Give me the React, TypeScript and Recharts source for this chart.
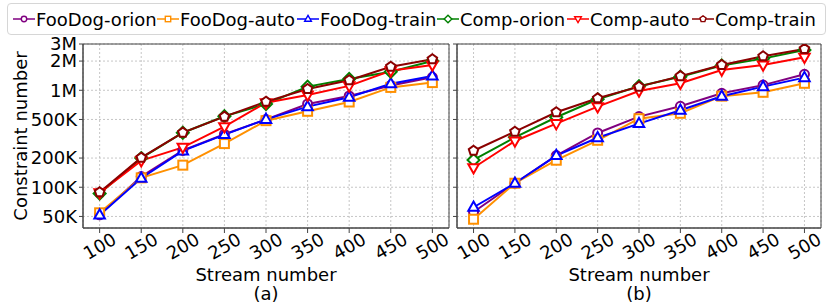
import React from 'react';
import { LineChart, Line, XAxis, YAxis, CartesianGrid, ReferenceArea, Label } from 'recharts';

const streams = [100, 150, 200, 250, 300, 350, 400, 450, 500];
const yTicks = [50000, 100000, 200000, 500000, 1000000, 2000000, 3000000];

const seriesNames = ['FooDog-orion', 'FooDog-auto', 'FooDog-train', 'Comp-orion', 'Comp-auto', 'Comp-train'];
const seriesColors = ['#800080', '#ff9000', '#0000ff', '#008000', '#ff0000', '#8b0000'];
const seriesShapes = ['circle', 'square', 'triUp', 'diamond', 'triDown', 'pentagon'];

// panel (a)
const fooOrionA = [52000, 129000, 240000, 352000, 500000, 722000, 873000, 1120000, 1360000];
const fooAutoA = [54500, 125000, 169000, 282000, 486000, 607000, 757000, 1070000, 1200000];
const fooTrainA = [51800, 124000, 237000, 349000, 501000, 678000, 847000, 1170000, 1400000];
const compOrionA = [86000, 200000, 365000, 540000, 722000, 1090000, 1310000, 1550000, 2000000];
const compAutoA = [88000, 188000, 258000, 421000, 745000, 895000, 1110000, 1590000, 1820000];
const compTrainA = [88700, 202000, 366000, 535000, 763000, 1030000, 1270000, 1750000, 2090000];

// panel (b)
const fooOrionB = [55600, 110000, 212000, 363000, 535000, 684000, 931000, 1130000, 1460000];
const fooAutoB = [46800, 110000, 190000, 305000, 509000, 579000, 870000, 953000, 1180000];
const fooTrainB = [62200, 110000, 212000, 324000, 453000, 622000, 867000, 1090000, 1350000];
const compOrionB = [191000, 327000, 527000, 807000, 1100000, 1380000, 1800000, 2120000, 2600000];
const compAutoB = [159000, 300000, 453000, 678000, 984000, 1180000, 1620000, 1820000, 2190000];
const compTrainB = [238000, 374000, 593000, 826000, 1090000, 1400000, 1820000, 2240000, 2670000];

const buildRows = (cols: number[][]) =>
  streams.map((s, i) => {
    const row: Record<string, number> = { stream: s };
    seriesNames.forEach((n, k) => (row[n] = cols[k][i]));
    return row;
  });

const rowsA = buildRows([fooOrionA, fooAutoA, fooTrainA, compOrionA, compAutoA, compTrainA]);
const rowsB = buildRows([fooOrionB, fooAutoB, fooTrainB, compOrionB, compAutoB, compTrainB]);

const Y_MIN = 38000;
const Y_MAX = 3000000;
const FONT = '"DejaVu Sans", sans-serif';
// legend entry widths (handle + label) so entries line up like the original
const legendItemWidths = [144, 140, 140, 130, 125, 129];

function Marker({ cx, cy, shape, color, r = 5, sw = 2 }: any) {
  if (cx == null || cy == null) return null;
  const common = { fill: '#fff', stroke: color, strokeWidth: sw };
  if (shape === 'circle') return <circle cx={cx} cy={cy} r={r - 0.5} {...common} />;
  if (shape === 'square') return <rect x={cx - r + 0.5} y={cy - r + 0.5} width={2 * r - 1} height={2 * r - 1} {...common} />;
  let pts: number[][] = [];
  if (shape === 'triUp') pts = [[0, -r * 1.15], [r * 1.05, r * 0.7], [-r * 1.05, r * 0.7]];
  if (shape === 'triDown') pts = [[0, r * 1.15], [r * 1.05, -r * 0.7], [-r * 1.05, -r * 0.7]];
  if (shape === 'diamond') pts = [[0, -r * 1.2], [r * 1.2, 0], [0, r * 1.2], [-r * 1.2, 0]];
  if (shape === 'pentagon')
    pts = [0, 1, 2, 3, 4].map((k) => {
      const a = -Math.PI / 2 + (k * 2 * Math.PI) / 5;
      return [Math.cos(a) * r, Math.sin(a) * r];
    });
  return <polygon points={pts.map(([x, y]) => `${cx + x},${cy + y}`).join(' ')} {...common} />;
}

const fmtY = (v: number) => (v >= 1000000 ? `${v / 1000000}M` : `${v / 1000}K`);

const XTick = ({ x, y, payload }: any) => {
  const cy = y + 11;
  return (
    <text x={x} y={cy} transform={`rotate(-30, ${x}, ${cy})`} textAnchor="middle" dominantBaseline="central"
      fontSize={18} fill="#000" fontFamily={FONT}>
      {payload.value}
    </text>
  );
};

function Panel({ rows, tag, showY, width, yWidth, right }: any) {
  return (
    <LineChart width={width} height={306} data={rows} margin={{ top: 44, right, bottom: 0, left: 0 }}>
      <CartesianGrid stroke="#b8b8b8" strokeDasharray="2 2" strokeWidth={0.8} />
      <XAxis
        type="number"
        dataKey="stream"
        domain={[80, 520]}
        ticks={streams}
        height={78}
        tickSize={5}
        tickMargin={2}
        stroke="#444"
        tick={<XTick />}
        interval={0}
      >
        <Label
          content={({ viewBox }: any) => (
            <g fontFamily={FONT} fontSize={18} fill="#000">
              <text x={viewBox.x + viewBox.width / 2} y={281} textAnchor="middle">Stream number</text>
              <text x={viewBox.x + viewBox.width / 2} y={300} textAnchor="middle">{tag}</text>
            </g>
          )}
        />
      </XAxis>
      <YAxis
        scale="log"
        domain={[Y_MIN, Y_MAX]}
        allowDataOverflow
        ticks={yTicks}
        interval={0}
        width={yWidth}
        tickSize={4}
        tickMargin={2}
        stroke="#444"
        tick={{ fill: '#000', fontSize: 18, fontFamily: FONT }}
        tickFormatter={showY ? fmtY : () => ''}
      >
        {showY && (
          <Label
            content={({ viewBox }: any) => {
              const cx = 20;
              const cy = viewBox.y + viewBox.height / 2;
              return (
                <text x={cx} y={cy} transform={`rotate(-90, ${cx}, ${cy})`} textAnchor="middle" dominantBaseline="central"
                  fontSize={18} fill="#000" fontFamily={FONT}>
                  Constraint number
                </text>
              );
            }}
          />
        )}
      </YAxis>
      <ReferenceArea x1={80} x2={520} y1={Y_MIN} y2={Y_MAX} fill="none" stroke="#444" strokeWidth={1} ifOverflow="extendDomain" />
      {seriesNames.map((name, k) => (
        <Line
          key={name}
          dataKey={name}
          type="linear"
          stroke={seriesColors[k]}
          strokeWidth={2}
          isAnimationActive={false}
          activeDot={false}
          dot={(p: any) => (
            <Marker key={`${name}-${p.index}`} cx={p.cx} cy={p.cy} shape={seriesShapes[k]} color={seriesColors[k]} />
          )}
        />
      ))}
    </LineChart>
  );
}

export default function App() {
  return (
    <div style={{ position: 'absolute', left: 0, top: 0, width: 831, height: 306, background: '#fff', fontFamily: FONT }}>
      <div style={{ position: 'absolute', left: 0, top: 0 }}>
        <Panel rows={rowsA} tag="(a)" showY width={460} yWidth={83} right={11} />
      </div>
      <div style={{ position: 'absolute', left: 450, top: 0 }}>
        <Panel rows={rowsB} tag="(b)" showY={false} width={381} yWidth={7} right={10} />
      </div>
      <div
        style={{
          position: 'absolute', left: 7, top: 3, width: 812, height: 30, border: '1px solid #d6d6d6', borderRadius: 4,
          background: '#fff', display: 'flex', alignItems: 'center', paddingLeft: 5, boxSizing: 'content-box',
          fontSize: 18, color: '#000', whiteSpace: 'nowrap', zIndex: 2,
        }}
      >
        {seriesNames.map((name, k) => (
          <div key={name} style={{ display: 'flex', alignItems: 'center', width: legendItemWidths[k], flex: 'none' }}>
            <svg width={22} height={14} style={{ display: 'block', flex: 'none' }}>
              <line x1={0} y1={7} x2={22} y2={7} stroke={seriesColors[k]} strokeWidth={1.5} />
              <Marker cx={11} cy={7} shape={seriesShapes[k]} color={seriesColors[k]} r={3.2} sw={1.4} />
            </svg>
            <span style={{ marginLeft: 1 }}>{name}</span>
          </div>
        ))}
      </div>
    </div>
  );
}
